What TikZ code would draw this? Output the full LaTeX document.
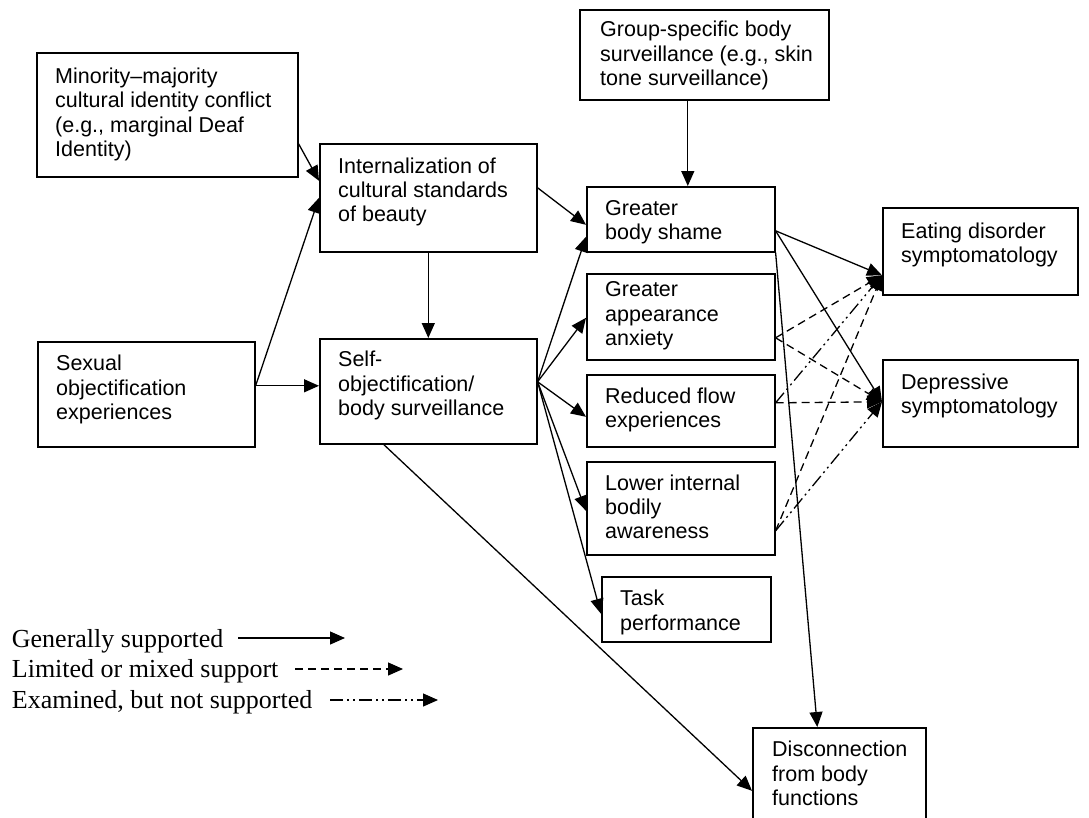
\documentclass[tikz,border=0pt]{standalone}
\usepackage{fontspec}
\setmainfont{Liberation Serif}
\newfontfamily\arialf{Liberation Sans}
\usetikzlibrary{arrows.meta,calc}
\begin{document}
\begin{tikzpicture}[x=1pt,y=-1pt,
  box/.style={draw, line width=1.6pt, inner sep=0pt, anchor=north west},
  txt/.style={anchor=north west, inner sep=0pt, align=left, font=\arialf\fontsize{21.5}{24.3}\selectfont},
  leg/.style={anchor=base west, inner sep=0pt, font=\fontsize{26}{30}\selectfont},
  conn/.style={line width=1.3pt, -{Triangle[length=15pt,width=13pt]}},
  dsh/.style={conn, dash pattern=on 8pt off 5pt},
  ddot/.style={conn, dash pattern=on 13pt off 4pt on 2pt off 4pt on 2pt off 4pt},
]
\useasboundingbox (0,0) rectangle (1089,817);
\clip (0,0) rectangle (1089,817);

% boxes
\node[box, minimum width=261pt, minimum height=124pt] (mm) at (36,52) {};
\node[box, minimum width=217pt, minimum height=105pt] (so) at (37,341) {};
\node[box, minimum width=217pt, minimum height=108pt] (int) at (319,143) {};
\node[box, minimum width=217pt, minimum height=105pt] (self) at (319,338) {};
\node[box, minimum width=249pt, minimum height=90pt] (grp) at (579,9) {};
\node[box, minimum width=188pt, minimum height=65pt] (shame) at (586,186) {};
\node[box, minimum width=188pt, minimum height=86pt] (anx) at (586,273) {};
\node[box, minimum width=188pt, minimum height=72pt] (flow) at (586,374) {};
\node[box, minimum width=188pt, minimum height=93pt] (low) at (586,461) {};
\node[box, minimum width=169pt, minimum height=65pt] (task) at (601,576) {};
\node[box, minimum width=195pt, minimum height=87pt] (eat) at (882,207) {};
\node[box, minimum width=195pt, minimum height=87pt] (dep) at (882,359) {};
\node[box, minimum width=173pt, minimum height=114pt] (disc) at (752,727) {};

% texts
\node[txt] (tmm) at (55,66.3) {\strut Minority–majority\\cultural identity conflict\\(e.g., marginal Deaf\\Identity)};
\node[txt] (tso) at (56,353.7) {\strut Sexual\\objectification\\experiences};
\node[txt] (tint) at (338,156) {\strut Internalization of\\cultural standards\\of beauty};
\node[txt] (tself) at (338,349.7) {\strut Self-\\objectification/\\body surveillance};
\node[txt] (tgrp) at (600,19.7) {\strut Group-specific body\\surveillance (e.g., skin\\tone surveillance)};
\node[txt] (tshame) at (605,198) {\strut Greater\\body shame};
\node[txt] (tanx) at (605,279.7) {\strut Greater\\appearance\\anxiety};
\node[txt] (tflow) at (605,386.3) {\strut Reduced flow\\experiences};
\node[txt] (tlow) at (605,473) {\strut Lower internal\\bodily\\awareness};
\node[txt] (ttask) at (620,588.7) {\strut Task\\performance};
\node[txt] (teat) at (901,221.3) {\strut Eating disorder\\symptomatology};
\node[txt] (tdep) at (901,372.3) {\strut Depressive\\symptomatology};
\node[txt] (tdisc) at (772,739.7) {\strut Disconnection\\from body\\functions};

% connectors
\draw[conn] ([yshift=-29pt]mm.east) -- ([yshift=17pt]int.west);
\draw[conn] ([yshift=8.5pt]so.east) -- (int.west);
\draw[conn] ([yshift=8.5pt]so.east) -- ([yshift=5.5pt]self.west);
\draw[conn] (int.south) -- (self.north);
\draw[conn] ([yshift=10pt]int.east) -- ([yshift=-5.5pt]shame.west);
\draw[conn] ([xshift=-16.5pt]grp.south) -- ([xshift=7pt]shame.north);
\draw[conn] ([yshift=9.5pt]self.east) -- ([yshift=-17.5pt]shame.west);
\draw[conn] ([yshift=9.5pt]self.east) -- ([yshift=-1pt]anx.west);
\draw[conn] ([yshift=9.5pt]self.east) -- ([yshift=-6pt]flow.west);
\draw[conn] ([yshift=9.5pt]self.east) -- ([yshift=-2.5pt]low.west);
\draw[conn] ([yshift=9.5pt]self.east) -- ([yshift=-4.5pt]task.west);
\draw[conn] ([xshift=-44.5pt]self.south) -- ([yshift=-6pt]disc.west);
\draw[conn] (shame.south east) -- ([xshift=-22pt]disc.north);
\draw[conn] ([yshift=-11.5pt]shame.east) -- ([yshift=-24pt]eat.west);
\draw[conn] ([yshift=-11.5pt]shame.east) -- ([yshift=1.5pt]dep.west);
\draw[dsh] ([yshift=-21pt]anx.east) -- ([yshift=-24pt]eat.west);
\draw[dsh] ([yshift=-21pt]anx.east) -- ([yshift=1.5pt]dep.west);
\draw[ddot] ([yshift=8pt]flow.east) -- ([yshift=-24pt]eat.west);
\draw[dsh] ([yshift=8pt]flow.east) -- ([yshift=1.5pt]dep.west);
\draw[dsh] ([yshift=-22.5pt]low.east) -- ([yshift=-24pt]eat.west);
\draw[ddot] ([yshift=-22.5pt]low.east) -- ([yshift=1.5pt]dep.west);

% legend
\node[leg] (l1) at (11.7,647) {Generally supported};
\node[leg] (l2) at (11.7,677.7) {Limited or mixed support};
\node[leg] (l3) at (11.7,708.3) {Examined, but not supported};
\coordinate (a1s) at (238,638);
\coordinate (a1e) at (345,638);
\coordinate (a2s) at (295,669);
\coordinate (a2e) at (403,669);
\coordinate (a3s) at (330,700);
\coordinate (a3e) at (438,700);
\draw[conn] (a1s) -- (a1e);
\draw[dsh] (a2s) -- (a2e);
\draw[ddot] (a3s) -- (a3e);
\end{tikzpicture}
\end{document}
